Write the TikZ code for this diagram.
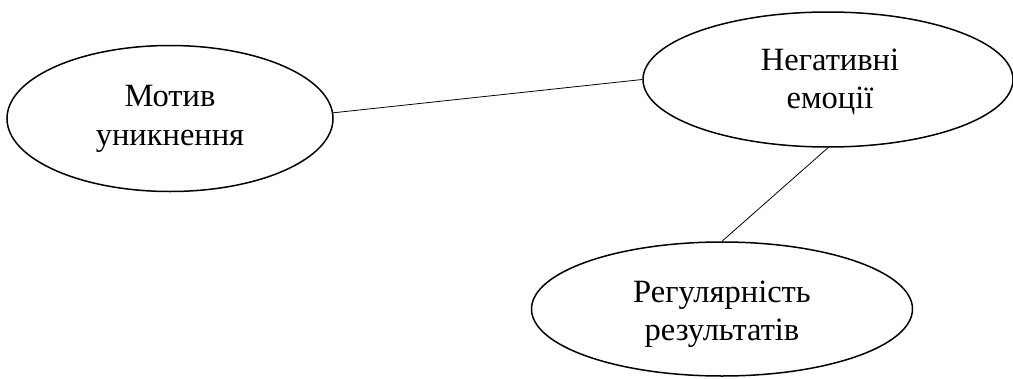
\documentclass[tikz,border=0pt]{standalone}
\usepackage{fontspec}
\setmainfont{Liberation Serif}
\usetikzlibrary{shapes.geometric}
\tikzset{
  oval/.style={ellipse, draw=black, line width=1.5pt, inner sep=0pt},
  txt/.style={align=center, inner sep=0pt, font=\fontsize{32.5}{38.5}\selectfont},
  link/.style={draw=black, line width=0.8pt}
}
\begin{document}
\begin{tikzpicture}[x=1pt,y=-1pt]
\useasboundingbox[fill=white] (0,0) rectangle (1013,378);
\node[oval, minimum width=326pt, minimum height=146pt] (a) at (170,118.5) {};
\node[oval, minimum width=370pt, minimum height=135pt] (b) at (828,79.5) {};
\node[oval, minimum width=381pt, minimum height=134pt] (c) at (722,309) {};
\node[txt] (at) at (170,119) {Мотив\\уникнення};
\node[txt] (bt) at (830,82) {Негативні\\емоції};
\node[txt] (ct) at (722,314) {Регулярність\\результатів};
\draw[link] (a.2) -- (b.west);
\draw[link] (b.south) -- (c.north);
\end{tikzpicture}
\end{document}
